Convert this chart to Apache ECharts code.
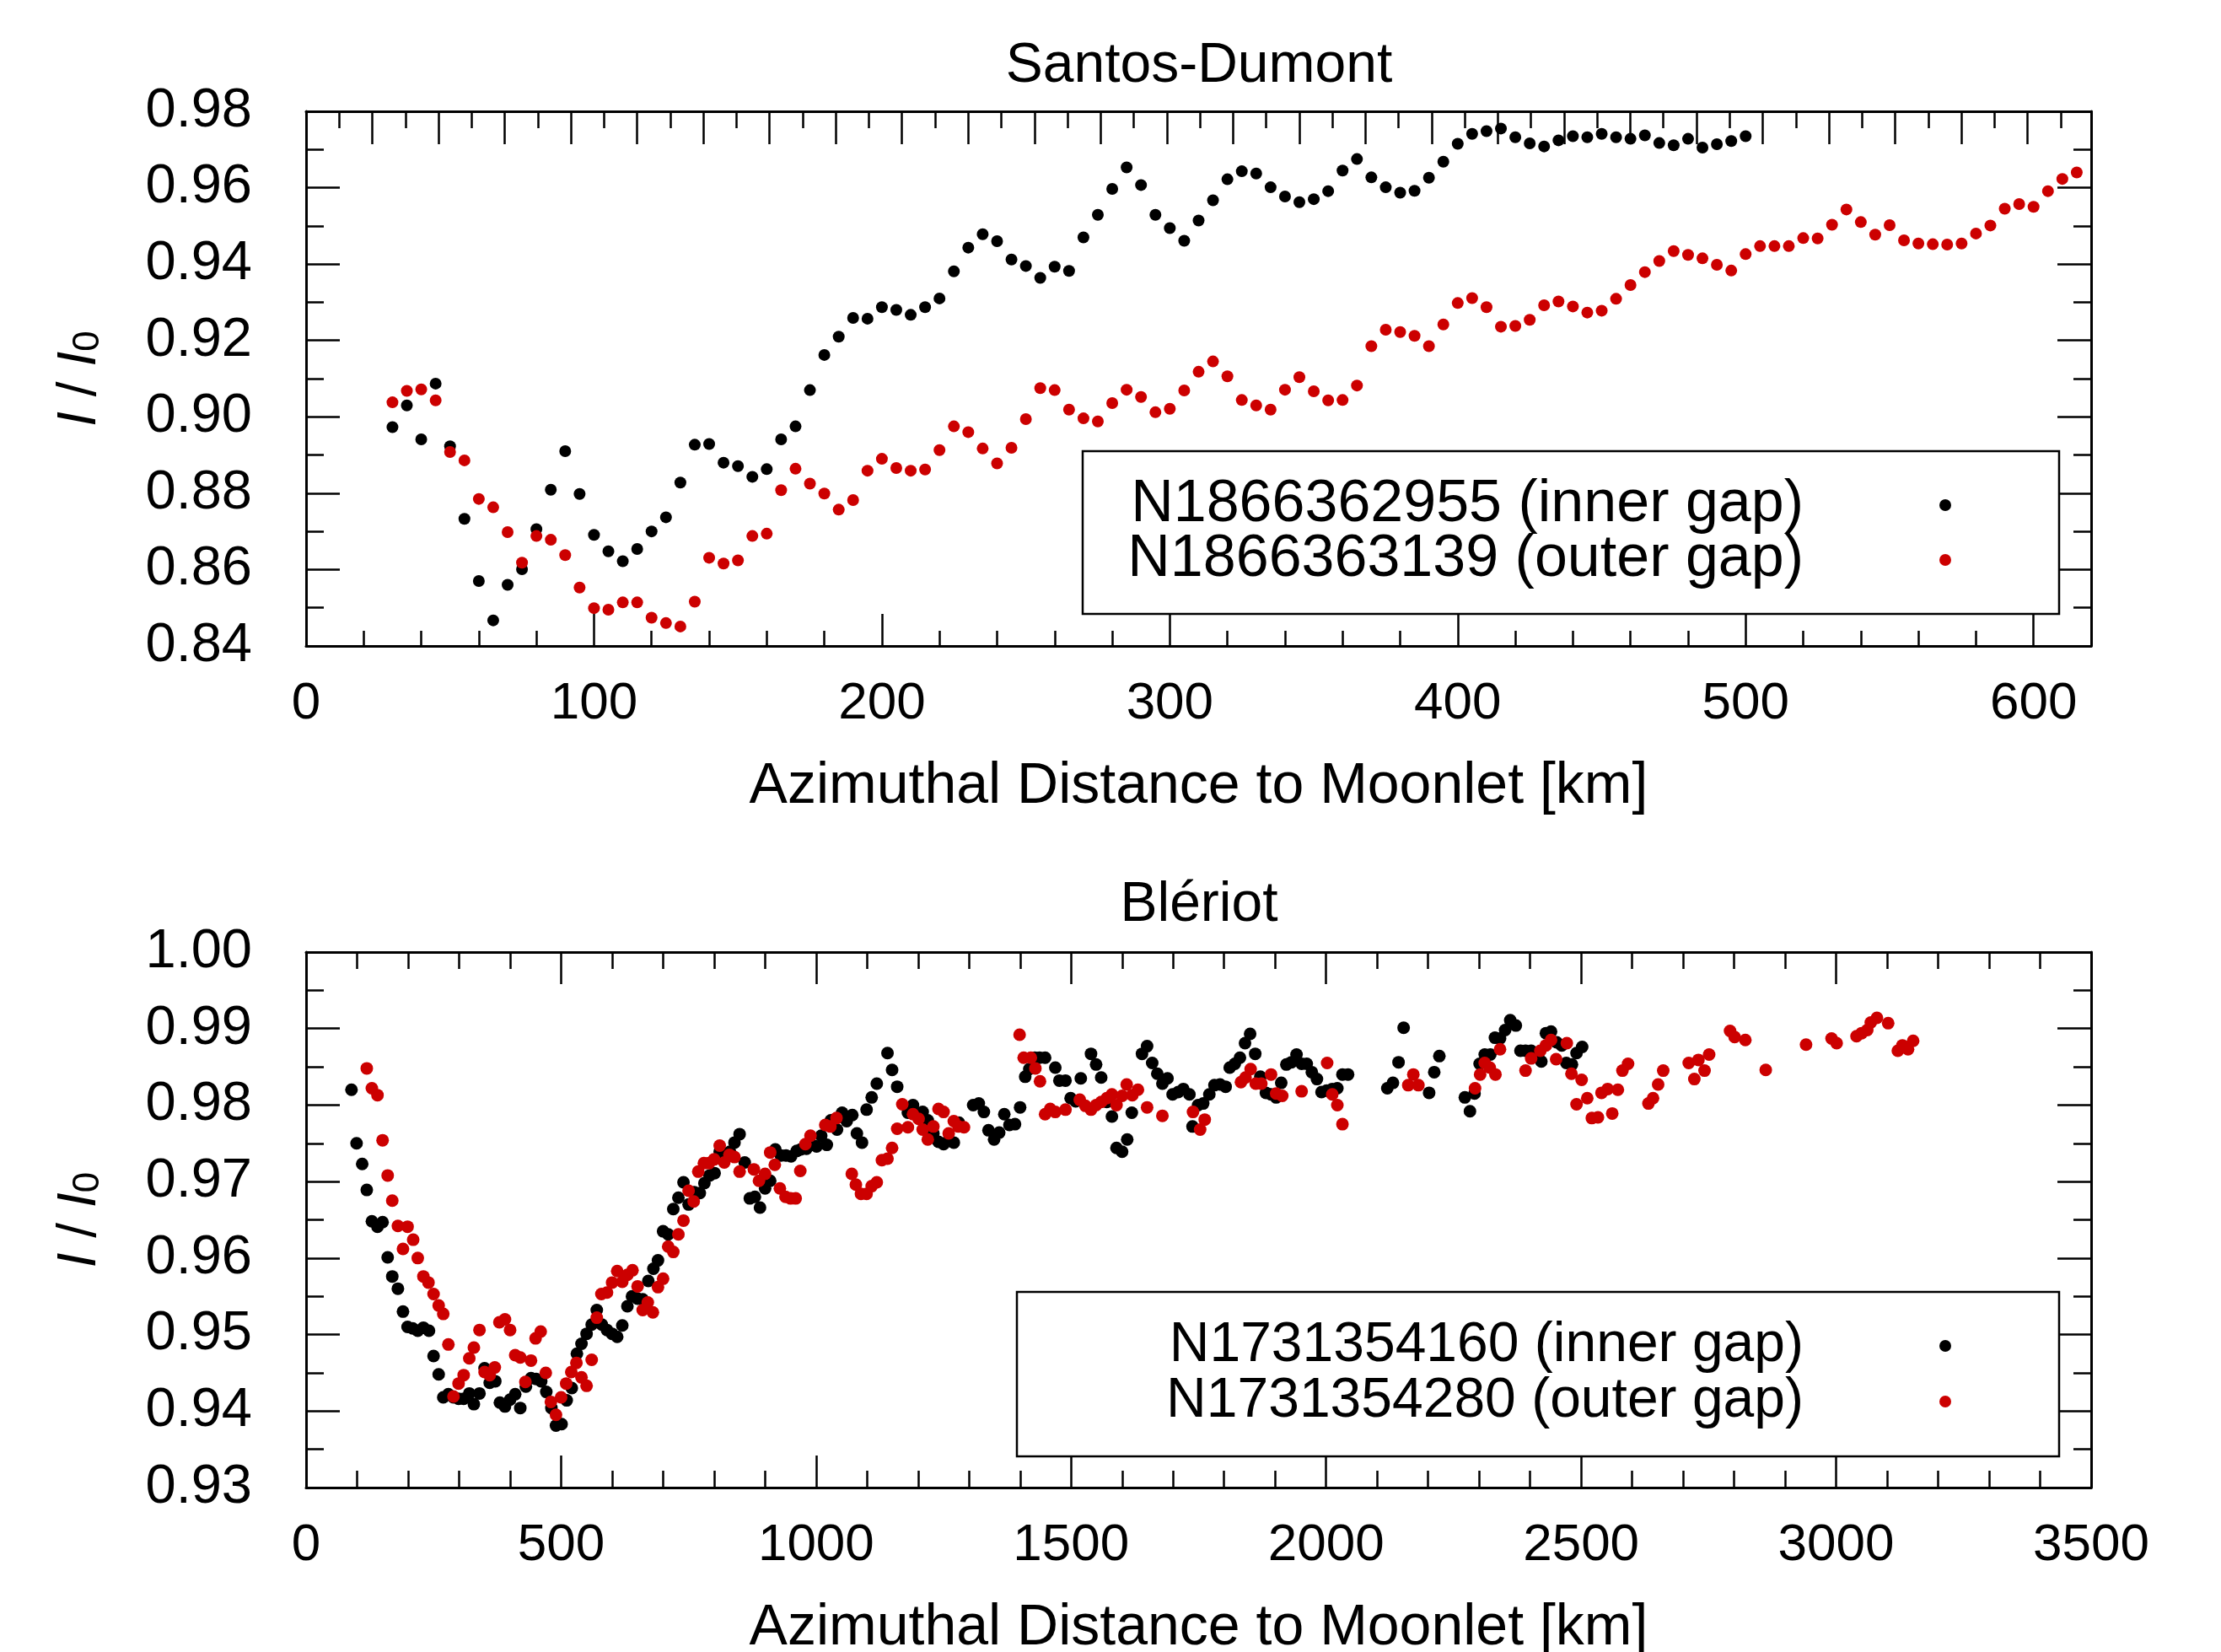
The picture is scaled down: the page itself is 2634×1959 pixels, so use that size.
<!DOCTYPE html>
<html>
<head>
<meta charset="utf-8">
<script src="https://cdn.jsdelivr.net/npm/echarts@6/dist/echarts.min.js"></script>
<style>
  html, body { margin: 0; padding: 0; background: #fff; }
  #chart { width: 2634px; height: 1959px; }
</style>
</head>
<body>
<div id="chart"></div>
<script>
// Santos-Dumont (top panel), both images share the same azimuthal sampling
var sdDist = [30,35,40,45,50,55,60,65,70,75,80,85,90,95,100,105,110,115,120,125,
  130,135,140,145,150,155,160,165,170,175,180,185,190,195,200,205,210,215,220,225,
  230,235,240,245,250,255,260,265,270,275,280,285,290,295,300,305,310,315,320,325,
  330,335,340,345,350,355,360,365,370,375,380,385,390,395,400,405,410,415,420,425,
  430,435,440,445,450,455,460,465,470,475,480,485,490,495,500,505,510,515,520,525,
  530,535,540,545,550,555,560,565,570,575,580,585,590,595,600,605,610,615];
var sdInner = [0.8973,0.9030,0.8941,0.9087,0.8923,0.8733,0.8570,0.8467,0.8560,0.8601,
  0.8706,0.8809,0.8910,0.8798,0.8691,0.8648,0.8622,0.8654,0.8700,0.8737,
  0.8828,0.8927,0.8929,0.8880,0.8871,0.8843,0.8863,0.8941,0.8975,0.9070,
  0.9162,0.9210,0.9259,0.9257,0.9287,0.9280,0.9267,0.9287,0.9310,0.9381,
  0.9443,0.9478,0.9460,0.9412,0.9395,0.9364,0.9393,0.9382,0.9470,0.9529,
  0.9597,0.9653,0.9607,0.9529,0.9494,0.9461,0.9514,0.9567,0.9622,0.9643,
  0.9637,0.9601,0.9577,0.9562,0.9570,0.9591,0.9645,0.9675,0.9627,0.9601,
  0.9587,0.9592,0.9626,0.9668,0.9715,0.9741,0.9748,0.9755,0.9732,0.9716,
  0.9708,0.9724,0.9735,0.9732,0.9741,0.9732,0.9728,0.9737,0.9717,0.9711,
  0.9728,0.9705,0.9714,0.9722,0.9735];
var sdOuter = [0.9038,0.9068,0.9072,0.9043,0.8908,0.8886,0.8785,0.8763,0.8698,0.8618,
  0.8688,0.8678,0.8638,0.8553,0.8499,0.8495,0.8514,0.8514,0.8474,0.8460,
  0.8451,0.8516,0.8631,0.8616,0.8624,0.8688,0.8694,0.8808,0.8864,0.8825,
  0.8799,0.8757,0.8782,0.8859,0.8890,0.8866,0.8859,0.8862,0.8913,0.8975,
  0.8960,0.8917,0.8878,0.8919,0.8994,0.9075,0.9070,0.9019,0.8996,0.8988,
  0.9036,0.9071,0.9052,0.9012,0.9021,0.9069,0.9118,0.9145,0.9106,0.9044,
  0.9030,0.9019,0.9071,0.9104,0.9067,0.9043,0.9044,0.9082,0.9185,0.9228,
  0.9222,0.9212,0.9185,0.9242,0.9298,0.9311,0.9287,0.9236,0.9238,0.9254,
  0.9292,0.9302,0.9289,0.9273,0.9278,0.9309,0.9345,0.9379,0.9408,0.9434,
  0.9424,0.9415,0.9398,0.9383,0.9426,0.9447,0.9447,0.9447,0.9468,0.9467,
  0.9503,0.9543,0.9510,0.9477,0.9502,0.9462,0.9454,0.9452,0.9451,0.9454,
  0.9480,0.9501,0.9545,0.9557,0.9550,0.9591,0.9623,0.9640];

// Bleriot (bottom panel)
var blInnerDist = [89,99,110,119,129,140,150,160,169,180,
  190,199,209,219,230,241,250,260,269,279,
  289,299,309,320,329,340,350,360,371,380,
  390,400,410,420,431,441,451,461,471,481,
  490,501,511,521,531,540,550,560,570,580,
  590,600,610,620,630,639,650,660,671,681,
  690,700,710,720,730,740,750,761,772,781,
  791,801,811,821,831,840,850,860,870,880,
  890,900,910,920,931,941,951,962,970,981,
  992,1001,1010,1021,1029,1041,1051,1060,1071,1080,
  1090,1099,1109,1119,1140,1149,1159,1180,1190,1209,
  1219,1230,1240,1250,1260,1270,1280,1308,1319,1329,
  1338,1349,1359,1369,1379,1390,1400,1410,1418,1429,
  1438,1449,1469,1477,1489,1499,1509,1519,1539,1549,
  1559,1570,1580,1589,1600,1610,1619,1639,1649,1659,
  1669,1679,1689,1699,1710,1720,1732,1738,1749,1759,
  1771,1781,1792,1803,1811,1821,1831,1841,1851,1861,
  1871,1882,1892,1902,1912,1922,1932,1942,1952,1962,
  1972,1982,1991,2001,2012,2022,2032,2043,2120,2131,
  2142,2152,2202,2212,2222,2272,2282,2291,2301,2311,
  2322,2331,2341,2351,2361,2372,2381,2391,2402,2412,
  2422,2431,2441,2452,2462,2471,2482,2491,2502];
var blInnerI = [0.9820,0.9750,0.9723,0.9689,0.9648,0.9641,0.9647,0.9601,0.9576,0.9560,
  0.9530,0.9510,0.9508,0.9505,0.9509,0.9505,0.9472,0.9448,0.9418,0.9422,
  0.9418,0.9416,0.9416,0.9423,0.9409,0.9423,0.9456,0.9437,0.9439,0.9411,
  0.9406,0.9415,0.9422,0.9404,0.9432,0.9443,0.9442,0.9439,0.9425,0.9404,
  0.9381,0.9383,0.9414,0.9430,0.9475,0.9488,0.9501,0.9513,0.9532,0.9513,
  0.9506,0.9501,0.9497,0.9512,0.9537,0.9550,0.9547,0.9546,0.9570,0.9586,
  0.9597,0.9635,0.9631,0.9664,0.9679,0.9699,0.9670,0.9686,0.9685,0.9698,
  0.9708,0.9711,0.9739,0.9736,0.9739,0.9751,0.9762,0.9725,0.9678,0.9680,
  0.9666,0.9691,0.9701,0.9742,0.9734,0.9734,0.9733,0.9740,0.9742,0.9743,
  0.9748,0.9746,0.9760,0.9748,0.9780,0.9768,0.9790,0.9779,0.9787,0.9763,
  0.9751,0.9794,0.9810,0.9828,0.9868,0.9846,0.9824,0.9790,0.9800,0.9791,
  0.9780,0.9763,0.9752,0.9749,0.9754,0.9751,0.9777,0.9800,0.9802,0.9791,
  0.9767,0.9755,0.9764,0.9788,0.9774,0.9775,0.9797,0.9837,0.9847,0.9862,
  0.9862,0.9862,0.9849,0.9832,0.9832,0.9809,0.9805,0.9835,0.9867,0.9853,
  0.9836,0.9804,0.9785,0.9744,0.9739,0.9755,0.9790,0.9867,0.9877,0.9855,
  0.9841,0.9828,0.9835,0.9814,0.9817,0.9821,0.9814,0.9772,0.9800,0.9802,
  0.9814,0.9826,0.9827,0.9824,0.9849,0.9854,0.9862,0.9881,0.9893,0.9867,
  0.9837,0.9816,0.9814,0.9810,0.9829,0.9853,0.9856,0.9866,0.9854,0.9854,
  0.9843,0.9834,0.9817,0.9819,0.9821,0.9822,0.9840,0.9840,0.9822,0.9829,
  0.9856,0.9901,0.9816,0.9843,0.9864,0.9810,0.9792,0.9815,0.9854,0.9866,
  0.9866,0.9888,0.9887,0.9898,0.9911,0.9904,0.9871,0.9871,0.9871,0.9863,
  0.9857,0.9894,0.9896,0.9882,0.9878,0.9855,0.9853,0.9868,0.9876];
var blOuterDist = [119,129,140,150,160,169,180,190,199,210,
  219,230,240,250,260,269,279,289,299,309,
  320,329,340,350,360,370,379,390,400,410,
  420,430,441,450,460,470,480,490,500,510,
  520,530,540,550,560,570,579,590,600,610,
  620,630,640,650,660,670,680,690,700,710,
  720,730,740,750,760,769,780,790,800,811,
  820,830,840,850,878,888,900,910,919,929,
  940,950,960,969,979,989,1018,1028,1040,1070,
  1078,1088,1099,1109,1119,1129,1140,1149,1159,1169,
  1180,1190,1201,1209,1219,1230,1240,1250,1260,1270,
  1279,1290,1399,1407,1421,1430,1439,1449,1459,1469,
  1489,1517,1528,1539,1549,1559,1570,1580,1589,1600,
  1609,1620,1631,1649,1679,1739,1753,1762,1833,1842,
  1852,1862,1873,1892,1902,1914,1952,2002,2012,2022,
  2032,2161,2171,2181,2292,2302,2311,2321,2332,2341,
  2391,2402,2420,2431,2441,2451,2472,2481,2491,2501,
  2512,2521,2533,2540,2552,2561,2572,2581,2592,2632,
  2641,2651,2661,2711,2722,2730,2742,2751,2792,2801,
  2822,2862,2941,2991,3001,3040,3050,3061,3068,3080,
  3102,3121,3130,3141,3151];
var blOuterI = [0.9848,0.9822,0.9813,0.9754,0.9708,0.9675,0.9642,0.9612,0.9641,0.9624,
  0.9600,0.9576,0.9568,0.9553,0.9538,0.9527,0.9487,0.9419,0.9436,0.9447,
  0.9469,0.9483,0.9506,0.9451,0.9447,0.9457,0.9516,0.9520,0.9506,0.9473,
  0.9470,0.9438,0.9466,0.9495,0.9504,0.9450,0.9412,0.9395,0.9418,0.9436,
  0.9451,0.9463,0.9444,0.9433,0.9467,0.9522,0.9553,0.9555,0.9568,0.9583,
  0.9569,0.9578,0.9584,0.9563,0.9532,0.9542,0.9529,0.9562,0.9573,0.9615,
  0.9608,0.9631,0.9649,0.9688,0.9674,0.9713,0.9724,0.9724,0.9729,0.9747,
  0.9725,0.9735,0.9732,0.9713,0.9716,0.9701,0.9710,0.9738,0.9722,0.9691,
  0.9680,0.9678,0.9678,0.9714,0.9749,0.9760,0.9774,0.9772,0.9783,0.9710,
  0.9696,0.9684,0.9684,0.9694,0.9699,0.9728,0.9730,0.9744,0.9769,0.9801,
  0.9771,0.9788,0.9782,0.9768,0.9755,0.9772,0.9795,0.9791,0.9763,0.9779,
  0.9772,0.9771,0.9892,0.9862,0.9862,0.9848,0.9831,0.9788,0.9795,0.9791,
  0.9794,0.9807,0.9799,0.9794,0.9800,0.9804,0.9809,0.9814,0.9800,0.9812,
  0.9827,0.9813,0.9820,0.9797,0.9786,0.9791,0.9768,0.9781,0.9830,0.9836,
  0.9847,0.9828,0.9828,0.9840,0.9815,0.9812,0.9818,0.9855,0.9814,0.9800,
  0.9775,0.9826,0.9840,0.9826,0.9822,0.9840,0.9855,0.9849,0.9840,0.9873,
  0.9845,0.9861,0.9871,0.9878,0.9885,0.9860,0.9881,0.9841,0.9801,0.9833,
  0.9809,0.9783,0.9784,0.9816,0.9821,0.9789,0.9820,0.9845,0.9854,0.9802,
  0.9809,0.9827,0.9845,0.9855,0.9834,0.9859,0.9845,0.9866,0.9897,0.9889,
  0.9885,0.9846,0.9879,0.9887,0.9881,0.9890,0.9894,0.9898,0.9908,0.9914,
  0.9907,0.9871,0.9878,0.9873,0.9884];

var titles = ['Santos-Dumont', 'Blériot'];
var sdNames = ['N1866362955 (inner gap)', 'N1866363139 (outer gap)'];
var blNames = ['N1731354160 (inner gap)', 'N1731354280 (outer gap)'];
var xName = 'Azimuthal Distance to Moonlet [km]';

var FONT = 'Liberation Sans';
var RED = '#cc0000';

function pairs(xs, ys) {
  return ys.map(function (y, i) { return [xs[i], y]; });
}

var chart = echarts.init(document.getElementById('chart'));

var lineSt = { color: '#000', width: 3 };
var tickSt = { color: '#000', width: 2.5 };
var labelSt = { color: '#000', fontSize: 62, fontFamily: FONT };
var nameSt = { color: '#000', fontSize: 68, fontFamily: FONT };

function frameAxis(o) {
  // common look: inside ticks, black frame, no grid lines
  var base = {
    type: 'value',
    axisLine: { show: true, onZero: false, lineStyle: lineSt },
    axisTick: { show: true, inside: true, length: 38, lineStyle: tickSt },
    axisLabel: { show: false },
    splitLine: { show: false },
    nameMoveOverlap: false
  };
  for (var k in o) base[k] = o[k];
  return base;
}

var yName = {
  name: '{i|I}{n| / }{i|I}{s|0}',
  nameLocation: 'middle',
  nameRotate: 90,
  nameGap: 236,
  nameTextStyle: {
    color: '#000', fontSize: 64, fontFamily: FONT,
    rich: {
      i: { fontStyle: 'italic', fontSize: 64, fontFamily: FONT, lineHeight: 64, verticalAlign: 'bottom' },
      n: { fontSize: 64, fontFamily: FONT, lineHeight: 64, verticalAlign: 'bottom' },
      s: { fontSize: 44, fontFamily: FONT, lineHeight: 26, verticalAlign: 'bottom' }
    }
  }
};

function fmt2(v) { return v.toFixed(2); }
function fmt0(v) { return String(v); }

var dot = function (c) { return { color: c, opacity: 1 }; };

var option = {
  animation: false,
  backgroundColor: '#fff',
  title: [
    { text: titles[0], left: 1422, top: 79, textAlign: 'center', textVerticalAlign: 'middle', padding: 0,
      textStyle: { fontSize: 66, fontWeight: 'normal', fontFamily: FONT, color: '#000' } },
    { text: titles[1], left: 1422, top: 1074, textAlign: 'center', textVerticalAlign: 'middle', padding: 0,
      textStyle: { fontSize: 66, fontWeight: 'normal', fontFamily: FONT, color: '#000' } }
  ],
  grid: [
    { left: 363, top: 132, width: 2117, height: 634, outerBoundsMode: 'none' },
    { left: 363, top: 1129, width: 2117, height: 635, outerBoundsMode: 'none' }
  ],
  xAxis: [
    frameAxis({ gridIndex: 0, position: 'bottom', min: 0, max: 620, interval: 100,
      axisLabel: { show: true, margin: 38, showMaxLabel: false, formatter: fmt0, textStyle: labelSt },
      name: xName, nameLocation: 'middle', nameGap: 133, nameTextStyle: nameSt }),
    frameAxis({ gridIndex: 0, position: 'bottom', min: 0, max: 620, interval: 20,
      axisLine: { show: false },
      axisTick: { show: true, inside: true, length: 18, lineStyle: tickSt } }),
    frameAxis({ gridIndex: 0, position: 'top', min: 0, max: 26.96, interval: 1,
      axisTick: { show: true, inside: true, length: 39, lineStyle: tickSt },
      minorTick: { show: true, splitNumber: 2, length: 20, lineStyle: tickSt } }),
    frameAxis({ gridIndex: 1, position: 'bottom', min: 0, max: 3500, interval: 500,
      axisLabel: { show: true, margin: 38, formatter: fmt0, textStyle: labelSt },
      minorTick: { show: true, splitNumber: 5, length: 20, lineStyle: tickSt },
      name: xName, nameLocation: 'middle', nameGap: 133, nameTextStyle: nameSt }),
    frameAxis({ gridIndex: 1, position: 'top', min: 0, max: 3500, interval: 500,
      minorTick: { show: true, splitNumber: 5, length: 20, lineStyle: tickSt } })
  ],
  yAxis: [
    frameAxis(Object.assign({ gridIndex: 0, position: 'left', min: 0.84, max: 0.98, interval: 0.02,
      axisTick: { show: true, inside: true, length: 40, lineStyle: tickSt },
      minorTick: { show: true, splitNumber: 2, length: 21, lineStyle: tickSt },
      axisLabel: { show: true, margin: 64, formatter: fmt2, textStyle: { color: '#000', fontSize: 65, fontFamily: FONT } } }, yName)),
    frameAxis({ gridIndex: 0, position: 'right', min: 0.84, max: 0.98, interval: 0.02,
      axisTick: { show: true, inside: true, length: 40, lineStyle: tickSt },
      minorTick: { show: true, splitNumber: 2, length: 21, lineStyle: tickSt } }),
    frameAxis(Object.assign({ gridIndex: 1, position: 'left', min: 0.93, max: 1.00, interval: 0.01,
      axisTick: { show: true, inside: true, length: 40, lineStyle: tickSt },
      minorTick: { show: true, splitNumber: 2, length: 21, lineStyle: tickSt },
      axisLabel: { show: true, margin: 64, formatter: fmt2, textStyle: { color: '#000', fontSize: 65, fontFamily: FONT } } }, yName)),
    frameAxis({ gridIndex: 1, position: 'right', min: 0.93, max: 1.00, interval: 0.01,
      axisTick: { show: true, inside: true, length: 40, lineStyle: tickSt },
      minorTick: { show: true, splitNumber: 2, length: 21, lineStyle: tickSt } })
  ],
  series: [
    { name: sdNames[0], type: 'scatter', xAxisIndex: 0, yAxisIndex: 0, symbol: 'circle', symbolSize: 14,
      itemStyle: dot('#000'), data: pairs(sdDist, sdInner) },
    { name: sdNames[1], type: 'scatter', xAxisIndex: 0, yAxisIndex: 0, symbol: 'circle', symbolSize: 14,
      itemStyle: dot(RED), data: pairs(sdDist, sdOuter) },
    { name: blNames[0], type: 'scatter', xAxisIndex: 3, yAxisIndex: 2, symbol: 'circle', symbolSize: 15,
      itemStyle: dot('#000'), data: pairs(blInnerDist, blInnerI) },
    { name: blNames[1], type: 'scatter', xAxisIndex: 3, yAxisIndex: 2, symbol: 'circle', symbolSize: 15,
      itemStyle: dot(RED), data: pairs(blOuterDist, blOuterI) }
  ],
  graphic: [
    // legend boxes, drawn by hand so the marker sits far right of the text
    { type: 'rect', z: 100, shape: { x: 1284, y: 535, width: 1158, height: 193 },
      style: { fill: '#fff', stroke: '#000', lineWidth: 2.5 } },
    { type: 'text', z: 101, x: 2139, y: 599, style: { text: sdNames[0], align: 'right', verticalAlign: 'middle', fontSize: 70, fontFamily: FONT, fill: '#000' } },
    { type: 'text', z: 101, x: 2139, y: 664, style: { text: sdNames[1], align: 'right', verticalAlign: 'middle', fontSize: 70, fontFamily: FONT, fill: '#000' } },
    { type: 'circle', z: 101, shape: { cx: 2307, cy: 599, r: 7 }, style: { fill: '#000' } },
    { type: 'circle', z: 101, shape: { cx: 2307, cy: 664, r: 7 }, style: { fill: RED } },

    { type: 'rect', z: 100, shape: { x: 1206, y: 1532, width: 1236, height: 195 },
      style: { fill: '#fff', stroke: '#000', lineWidth: 2.5 } },
    { type: 'text', z: 101, x: 2139, y: 1596, style: { text: blNames[0], align: 'right', verticalAlign: 'middle', fontSize: 66, fontFamily: FONT, fill: '#000' } },
    { type: 'text', z: 101, x: 2139, y: 1662, style: { text: blNames[1], align: 'right', verticalAlign: 'middle', fontSize: 66, fontFamily: FONT, fill: '#000' } },
    { type: 'circle', z: 101, shape: { cx: 2307, cy: 1596, r: 7 }, style: { fill: '#000' } },
    { type: 'circle', z: 101, shape: { cx: 2307, cy: 1662, r: 7 }, style: { fill: RED } }
  ]
};

chart.setOption(option);
</script>
</body>
</html>
